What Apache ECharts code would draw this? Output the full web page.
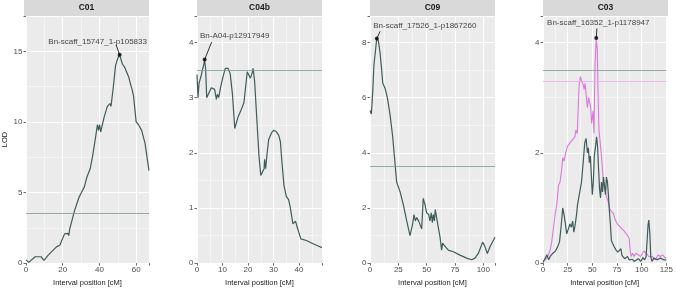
<!DOCTYPE html>
<html>
<head>
<meta charset="utf-8">
<title>LOD profiles</title>
<script src="https://cdn.jsdelivr.net/npm/echarts@6/dist/echarts.min.js"></script>
<style>
  html, body { margin: 0; padding: 0; background: #fff; }
  #chart { width: 676px; height: 292px; }
</style>
</head>
<body>
<div id="chart"></div>
<script>
// values: position (cM) and LOD per panel
const c01Pos = [0, 1.5, 2.3, 5, 5.9, 8.2, 9.8, 12, 16.6, 18.4, 21, 22.9, 23.3, 23.8, 26.4, 29, 31.8, 33.2, 35, 36.3, 38, 38.9, 39.5, 40.1, 40.7, 42.5, 44.3, 45.7, 46.3, 47.5, 48.8, 50, 51, 52.5, 53.6, 55.9, 57.3, 57.8, 58.6, 60, 61.3, 63, 64.8, 67];
const c01Lod = [0.23, 0.05, 0.1, 0.45, 0.57, 0.45, 0.2, 0.55, 1.15, 1.26, 2.07, 2.1, 1.95, 2.4, 3.7, 4.7, 5.4, 6.1, 6.7, 7.6, 9.0, 9.8, 9.4, 9.8, 9.3, 10.3, 11.1, 11.3, 11.1, 12.4, 14.0, 14.5, 14.75, 14.1, 13.9, 13.2, 12.5, 12.3, 11.8, 10.0, 9.8, 9.4, 8.5, 6.55];

const c04bPos = [0, 0.4, 0.8, 1.7, 2.1, 2.6, 3, 3.4, 3.8, 4.7, 5.6, 6.3, 6.9, 7.6, 8, 8.5, 9.3, 10.2, 11.1, 12.2, 13, 13.9, 14.8, 16.1, 17.4, 18.4, 19.7, 20.3, 20.9, 21.6, 22, 22.6, 23.7, 24.3, 25, 25.6, 26.3, 26.5, 26.9, 27.5, 28.1, 29.2, 30.1, 31.1, 32, 32.7, 33.3, 34.1, 35, 35.9, 36.6, 37.6, 38.6, 39.3, 40.7, 42.9, 45.5, 47.5, 49];
const c04bLod = [3.42, 3.0, 3.26, 3.41, 3.5, 3.59, 3.69, 3.5, 3.0, 3.09, 3.18, 3.2, 3.15, 2.97, 3.06, 3.0, 3.2, 3.38, 3.53, 3.53, 3.44, 3.06, 2.44, 2.65, 2.79, 2.91, 3.47, 3.5, 3.35, 3.44, 3.53, 3.29, 2.41, 1.94, 1.59, 1.59, 1.71, 1.88, 1.71, 2.0, 2.24, 2.36, 2.41, 2.38, 2.32, 2.2, 1.82, 1.41, 1.21, 1.15, 1.0, 0.71, 0.76, 0.65, 0.44, 0.41, 0.35, 0.31, 0.28];

const c09Pos = [0, 1.2, 2.4, 3.5, 5, 5.9, 7.4, 8.8, 10.3, 11.2, 13.2, 15.3, 17.6, 20, 22, 23.5, 26.5, 29.4, 32.4, 35.3, 37.6, 38.8, 40, 41.2, 42.9, 44.1, 45.6, 47, 48.5, 50, 51.8, 52.9, 54.1, 55, 55.9, 56.8, 57.6, 58.8, 60.3, 61.8, 63.2, 64.1, 65.3, 67, 69.1, 73.5, 79.4, 85.3, 89.7, 92.6, 95.6, 99.4, 101.5, 103.5, 105.9, 108.8, 110.3];
const c09Lod = [5.53, 5.41, 6.2, 7.2, 7.76, 8.14, 8.06, 7.65, 7.0, 6.53, 6.35, 6.0, 5.41, 4.59, 3.65, 2.94, 2.59, 2.12, 1.53, 1.0, 1.41, 1.76, 1.53, 1.65, 1.53, 1.53, 1.24, 2.35, 2.12, 1.82, 1.76, 1.53, 1.82, 1.47, 1.76, 1.53, 1.94, 2.0, 1.29, 0.94, 0.47, 0.73, 0.65, 0.65, 0.47, 0.41, 0.29, 0.18, 0.12, 0.18, 0.35, 0.76, 0.59, 0.35, 0.59, 0.82, 0.94];

const c03Pos = [0, 2.3, 4, 5.7, 7.3, 10, 12.3, 14.7, 16.7, 18.3, 20, 21.3, 22.7, 24, 25.7, 27.3, 28.7, 30, 31.3, 32.7, 34, 35, 36, 37.3, 39, 40.7, 42.3, 43.7, 45, 46, 47, 48, 49, 50, 51, 52, 53.3, 54.3, 55.3, 56.3, 57.3, 58.3, 59.3, 60.3, 61.3, 62.3, 63.3, 64.3, 65.3, 66.3, 67.3, 68.3, 69.3, 70.7, 72.3, 74, 75.7, 77.3, 79, 80, 81.3, 82.7, 84, 85.7, 87.3, 89, 90.7, 92.3, 94, 96.7, 99, 101.3, 103, 104.5, 105.5, 106.5, 107.3, 108.3, 109.2, 110.5, 112.3, 115.7, 119, 122.3, 125];
const c03Lod = [0.01, 0.09, 0.15, 0.06, 0.12, 0.18, 0.21, 0.29, 0.38, 0.65, 1.0, 0.88, 0.71, 0.53, 0.62, 0.71, 0.65, 0.76, 0.56, 0.71, 0.88, 1.06, 1.03, 1.29, 1.47, 1.82, 2.18, 2.26, 2.0, 2.09, 1.82, 1.94, 1.59, 1.24, 1.47, 1.94, 2.12, 2.29, 2.12, 1.71, 1.35, 1.18, 1.47, 1.29, 1.56, 1.41, 1.24, 1.56, 1.47, 1.24, 0.94, 0.71, 0.41, 0.35, 0.29, 0.24, 0.2, 0.18, 0.26, 0.14, 0.16, 0.08, 0.06, 0.12, 0.06, 0.03, 0.07, 0.03, 0.05, 0.08, 0.03, 0.1, 0.06, 0.12, 0.4, 0.7, 0.78, 0.53, 0.12, 0.03, 0.09, 0.06, 0.09, 0.06, 0.06];

// second trait on C03 (pink)
const c03bPos = [0, 2.3, 4.7, 7.3, 9, 10.7, 12.3, 14, 15.7, 17.3, 19, 20, 21.3, 23, 25, 27.3, 30, 32.3, 33.3, 34.7, 35.7, 36.7, 38, 39.3, 40.7, 41.7, 42.7, 44, 45, 46.3, 47.3, 48.3, 49.3, 50.7, 51.7, 52.7, 54, 55, 55.7, 56.7, 58, 59.3, 60.7, 62, 63.3, 64.7, 66, 67.3, 69, 71.3, 73.3, 75.7, 78, 80, 82.3, 84, 85.7, 87.3, 88.5, 89.5, 90.7, 92.3, 94, 96.7, 99, 100.7, 102.3, 104, 105.5, 107.3, 110.7, 114, 116.7, 119, 121.3, 124, 125];
const c03bLod = [0.03, 0.06, 0.12, 0.24, 0.41, 0.65, 0.88, 1.06, 1.41, 1.47, 1.71, 1.91, 1.85, 2.0, 2.12, 2.18, 2.24, 2.29, 2.41, 2.35, 2.82, 3.24, 3.38, 3.29, 3.24, 3.15, 3.26, 3.0, 2.82, 3.0, 3.03, 2.82, 2.53, 2.76, 2.35, 3.59, 4.07, 3.88, 3.18, 2.41, 2.18, 1.94, 1.59, 1.35, 1.29, 1.18, 1.12, 1.0, 0.94, 0.9, 0.78, 0.7, 0.66, 0.62, 0.58, 0.55, 0.5, 0.45, 0.2, 0.12, 0.18, 0.12, 0.18, 0.15, 0.12, 0.15, 0.22, 0.2, 0.16, 0.12, 0.12, 0.06, 0.15, 0.12, 0.15, 0.09, 0.1];

const panelNames = ["C01", "C04b", "C09", "C03"];
const thresholds = [3.5, 3.5, 3.5, 3.5];
const c03bThreshold = 3.3;
const peakNames = ["Bn-scaff_15747_1-p105833", "Bn-A04-p12917949", "Bn-scaff_17526_1-p1867260", "Bn-scaff_16352_1-p1178947"];
const peakPos = [51, 3, 6, 54];
const peakLod = [14.75, 3.69, 8.14, 4.08];
const xMax = [67, 49, 110.3, 125];
const yMax = [17.5, 4.48, 8.96, 4.48];
const xStep = [20, 10, 25, 25];
const yStep = [5, 1, 2, 2];

const zip = (a, b) => a.map((v, i) => [v, b[i]]);
const curves = [zip(c01Pos, c01Lod), zip(c04bPos, c04bLod), zip(c09Pos, c09Lod), zip(c03Pos, c03Lod)];

const lefts = [24, 197, 370, 543];
const panelW = 125, panelTop = 16, panelH = 254;
// label offset from the peak point, and end of the leader segment (pixels)
const labelShift = [[-22, -13], [30, -23.5], [48, -13], [2, -15]];
const leaderEnd = [[-3.5, -10], [7, -17.5], [3.3, -7.3], [0.6, -9.5]];

const lineCol = "#3d5c5a";
const pink = "#dd77dc";
const font = "Liberation Sans, Arial, sans-serif";

const myChart = echarts.init(document.getElementById("chart"));

const grid = [], xAxis = [], yAxis = [], series = [], graphic = [];
const hideOdd = (step) => (v) => (Math.abs(v / step - Math.round(v / step)) < 1e-6 ? String(v) : "");

panelNames.forEach((name, i) => {
  grid.push({ left: lefts[i], top: panelTop, width: panelW, height: panelH,
    show: true, backgroundColor: "#ebebeb", borderWidth: 0 });

  // major axes
  xAxis.push({
    type: "value", gridIndex: i, min: 0, max: xMax[i], interval: xStep[i],
    name: "Interval position [cM]", nameLocation: "middle", nameGap: 14,
    nameTextStyle: { fontSize: 7.5, color: "#222", fontFamily: font },
    axisLine: { show: false },
    axisTick: { show: true, length: 2.5, lineStyle: { color: "#444", width: 0.8 } },
    axisLabel: { fontSize: 8, color: "#4d4d4d", margin: 3, fontFamily: font, formatter: hideOdd(xStep[i]) },
    splitLine: { lineStyle: { color: "#fff", width: 1 } }
  });
  yAxis.push({
    type: "value", gridIndex: i, min: 0, max: yMax[i], interval: yStep[i],
    name: i === 0 ? "LOD" : "", nameLocation: "middle", nameGap: 17,
    nameTextStyle: { fontSize: 7.5, color: "#222", fontFamily: font },
    axisLine: { show: false },
    axisTick: { show: true, length: 2.5, lineStyle: { color: "#444", width: 0.8 } },
    axisLabel: { fontSize: 8, color: "#4d4d4d", margin: 3.5, fontFamily: font, formatter: hideOdd(yStep[i]) },
    splitLine: { lineStyle: { color: "#fff", width: 1 } }
  });
  // minor grid lines
  xAxis.push({
    type: "value", gridIndex: i, min: 0, max: xMax[i], interval: xStep[i] / 2,
    axisLine: { show: false }, axisTick: { show: false }, axisLabel: { show: false },
    splitLine: { lineStyle: { color: "#fff", width: 0.5 } }
  });
  yAxis.push({
    type: "value", gridIndex: i, min: 0, max: yMax[i], interval: yStep[i] / 2,
    axisLine: { show: false }, axisTick: { show: false }, axisLabel: { show: false },
    splitLine: { lineStyle: { color: "#fff", width: 0.5 } }
  });

  const ax = 2 * i;

  if (i === 3) {
    series.push({
      type: "line", xAxisIndex: ax, yAxisIndex: ax, data: zip(c03bPos, c03bLod),
      showSymbol: false, lineStyle: { color: pink, width: 1.1 }, z: 2,
      markLine: { silent: true, symbol: "none", label: { show: false },
        lineStyle: { color: "#e9a9e8", width: 0.8, type: "solid" },
        data: [{ yAxis: c03bThreshold }] }
    });
  }

  series.push({
    type: "line", xAxisIndex: ax, yAxisIndex: ax, data: curves[i],
    showSymbol: false, lineStyle: { color: lineCol, width: 1.2 }, z: 3,
    markLine: { silent: true, symbol: "none", label: { show: false },
      lineStyle: { color: "#7f9995", width: 0.8, type: "solid" },
      data: [{ yAxis: thresholds[i] }] }
  });

  series.push({
    type: "scatter", xAxisIndex: ax, yAxisIndex: ax,
    data: [{ value: [peakPos[i], peakLod[i]], name: peakNames[i] }],
    symbolSize: 4, itemStyle: { color: "#000" }, z: 5,
    label: { show: true, position: "inside", formatter: "{b}", fontSize: 8, color: "#111", fontFamily: font },
    labelLayout: { dx: labelShift[i][0], dy: labelShift[i][1], hideOverlap: false },
    labelLine: { show: false }
  });

  // facet strip
  graphic.push({
    type: "rect", shape: { x: lefts[i], y: 0, width: panelW, height: panelTop },
    style: { fill: "#d9d9d9" }, silent: true
  });
  graphic.push({
    type: "text", x: lefts[i] + panelW / 2, y: panelTop / 2,
    style: { text: name, fontSize: 8.5, fontWeight: "bold", fill: "#1a1a1a",
      fontFamily: font, align: "center", verticalAlign: "middle" }, silent: true
  });
});

const option = {
  animation: false,
  backgroundColor: "#fff",
  grid, xAxis, yAxis, series, graphic
};

// 绘制图表
myChart.setOption(option);

// leader segments from each peak point up to its label
peakPos.forEach((p, i) => {
  const pt = myChart.convertToPixel({ xAxisIndex: 2 * i, yAxisIndex: 2 * i }, [p, peakLod[i]]);
  graphic.push({
    type: "line", silent: true, z: 10,
    shape: { x1: pt[0], y1: pt[1], x2: pt[0] + leaderEnd[i][0], y2: pt[1] + leaderEnd[i][1] },
    style: { stroke: "#000", lineWidth: 0.8 }
  });
});
myChart.setOption({ graphic });

window.onresize = function () {
  myChart.resize();
};
</script>
</body>
</html>
